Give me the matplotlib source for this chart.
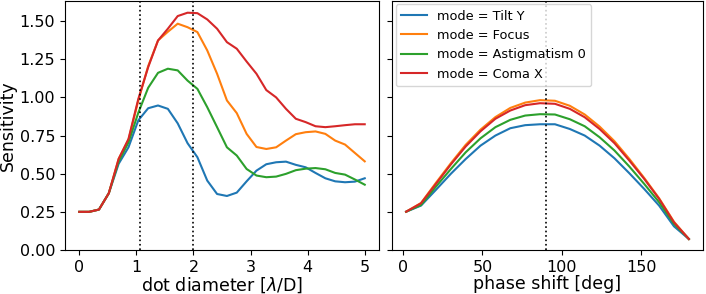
import numpy as np
import matplotlib.pyplot as plt

# dot diameter scan [lambda/D]
diam = np.linspace(0, 5, 30)
tilt_d = [0.25, 0.25, 0.265, 0.372, 0.565, 0.673, 0.85, 0.929, 0.947, 0.925,
          0.83, 0.70, 0.608, 0.455, 0.367, 0.354, 0.376, 0.45, 0.52, 0.562,
          0.575, 0.579, 0.558, 0.542, 0.505, 0.47, 0.45, 0.444, 0.448, 0.47]
focus_d = [0.25, 0.25, 0.265, 0.372, 0.597, 0.722, 0.98, 1.205, 1.373, 1.43,
           1.483, 1.46, 1.428, 1.308, 1.155, 0.98, 0.897, 0.761, 0.675, 0.662,
           0.673, 0.717, 0.759, 0.772, 0.777, 0.761, 0.717, 0.691, 0.636, 0.581]
astig_d = [0.25, 0.25, 0.265, 0.372, 0.58, 0.705, 0.90, 1.063, 1.161, 1.188,
           1.177, 1.11, 1.056, 0.936, 0.805, 0.673, 0.619, 0.531, 0.488, 0.477,
           0.481, 0.499, 0.523, 0.533, 0.537, 0.529, 0.505, 0.494, 0.462, 0.428]
coma_d = [0.25, 0.25, 0.265, 0.372, 0.597, 0.728, 0.99, 1.198, 1.373, 1.45,
          1.533, 1.555, 1.552, 1.511, 1.45, 1.362, 1.319, 1.235, 1.155, 1.048,
          1.0, 0.925, 0.86, 0.838, 0.811, 0.805, 0.811, 0.818, 0.824, 0.824]

# phase shift scan [deg]
phase = np.linspace(2, 180, 20)
tilt_p = [0.251, 0.291, 0.394, 0.499, 0.596, 0.684, 0.75, 0.798, 0.818, 0.824,
          0.824, 0.793, 0.75, 0.684, 0.601, 0.503, 0.40, 0.291, 0.155, 0.072]
focus_p = [0.251, 0.308, 0.44, 0.568, 0.689, 0.789, 0.871, 0.931, 0.966, 0.982,
           0.978, 0.945, 0.888, 0.809, 0.713, 0.597, 0.472, 0.339, 0.185, 0.072]
astig_p = [0.251, 0.295, 0.415, 0.53, 0.64, 0.732, 0.805, 0.853, 0.881, 0.89,
           0.888, 0.857, 0.811, 0.739, 0.652, 0.547, 0.433, 0.313, 0.171, 0.072]
coma_p = [0.251, 0.306, 0.433, 0.56, 0.678, 0.778, 0.86, 0.914, 0.949, 0.962,
          0.958, 0.925, 0.87, 0.793, 0.70, 0.586, 0.466, 0.335, 0.181, 0.072]

modes = ['Tilt Y', 'Focus', 'Astigmatism 0', 'Coma X']
colors = ['tab:blue', 'tab:orange', 'tab:green', 'tab:red']

fig = plt.figure(figsize=(7.06, 2.94), dpi=100)
ax1 = fig.add_axes([65 / 706, 44 / 294, 314 / 706, 249.5 / 294])
ax2 = fig.add_axes([392 / 706, 44 / 294, 311 / 706, 249.5 / 294], sharey=ax1)

for m, c, yd, yp in zip(modes, colors,
                        [tilt_d, focus_d, astig_d, coma_d],
                        [tilt_p, focus_p, astig_p, coma_p]):
    ax1.plot(diam, yd, color=c, lw=1.5)
    ax2.plot(phase, yp, color=c, lw=1.5, label='mode = ' + m)

# markers of interest
ax1.axvline(1.06, color='k', ls=':', lw=1.2)
ax1.axvline(2.0, color='k', ls=':', lw=1.2)
ax2.axvline(90, color='k', ls=':', lw=1.2)

ax1.set_ylim(0, 1.635)
ax1.set_yticks([0, 0.25, 0.5, 0.75, 1.0, 1.25, 1.5])
ax1.set_xticks([0, 1, 2, 3, 4, 5])
ax2.set_xticks([0, 50, 100, 150])
plt.setp(ax2.get_yticklabels(), visible=False)

ax1.tick_params(labelsize=11.5)
ax2.tick_params(labelsize=11.5)
ax1.set_xlabel('dot diameter [$\\lambda$/D]', fontsize=12.5, labelpad=0.3)
ax2.set_xlabel('phase shift [deg]', fontsize=12.5, labelpad=0.3)
ax1.set_ylabel('Sensitivity', fontsize=12.5, labelpad=2)

ax2.legend(loc='upper left', fontsize=9.3, borderaxespad=0.3)

plt.savefig('out.png', dpi=100)
